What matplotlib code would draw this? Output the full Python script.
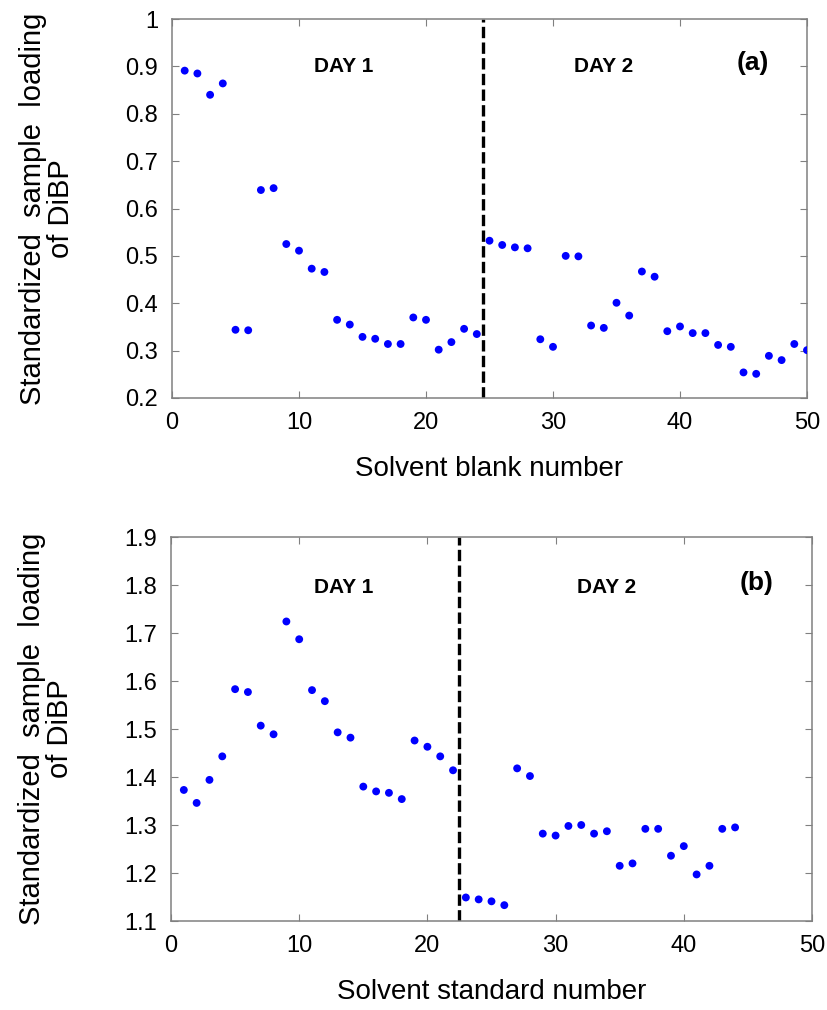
import numpy as np
import matplotlib.pyplot as plt

plt.rcParams['font.family'] = ['Liberation Sans', 'DejaVu Sans']

# (a) solvent blanks, DiBP loading per injection
blank_loading = [0.891, 0.885, 0.840, 0.864, 0.344, 0.343, 0.639, 0.643, 0.525, 0.511,
                 0.473, 0.466, 0.365, 0.355, 0.329, 0.325, 0.314, 0.314, 0.370, 0.365,
                 0.302, 0.318, 0.346, 0.335,
                 0.532, 0.523, 0.518, 0.516, 0.324, 0.308, 0.500, 0.499, 0.353, 0.348,
                 0.401, 0.374, 0.467, 0.456, 0.341, 0.351, 0.337, 0.337, 0.312, 0.308,
                 0.254, 0.251, 0.289, 0.280, 0.314, 0.301]
blank_day_split = 24.5

# (b) solvent standards
std_loading = [1.373, 1.346, 1.394, 1.443, 1.583, 1.577, 1.507, 1.489, 1.724, 1.687,
               1.581, 1.558, 1.493, 1.482, 1.380, 1.370, 1.367, 1.354, 1.476, 1.463,
               1.443, 1.414,
               1.149, 1.145, 1.141, 1.133, 1.418, 1.402, 1.282, 1.278, 1.298, 1.300,
               1.282, 1.287, 1.215, 1.220, 1.292, 1.292, 1.236, 1.256, 1.197, 1.215,
               1.292, 1.295]
std_day_split = 22.5

FRAME = '#808080'


def draw_panel(ax, values, split, ylim, yticks, xlabel, tag, text_y, tag_y):
    x = np.arange(1, len(values) + 1)
    ax.scatter(x, values, s=32, color='#0000ff', edgecolors='none', zorder=3)
    ax.axvline(split, color='black', lw=2.4, ls=(0, (3.4, 1.3)), zorder=2)

    ax.set_xlim(0, 50)
    ax.set_ylim(*ylim)
    ax.set_xticks([0, 10, 20, 30, 40, 50])
    ax.set_yticks(yticks)
    ax.set_yticklabels([f'{t:g}' for t in yticks])
    ax.tick_params(direction='in', length=5, width=0.8, color=FRAME,
                   top=True, right=True, labelsize=17, pad=10)
    for sp in ax.spines.values():
        sp.set_color(FRAME)
        sp.set_linewidth(1.1)

    ax.set_xlabel(xlabel, fontsize=20, labelpad=16)
    ax.set_ylabel('Standardized  sample  loading\nof DiBP', fontsize=21,
                  linespacing=1.0, multialignment='center')
    # right edge of the two-line label sits just left of the tick labels
    ax.yaxis.set_label_coords(-0.152, 0.5)

    ax.text(13.5, text_y, 'DAY 1', fontsize=15, fontweight='bold',
            ha='center', va='center')
    ax.text(34.0, text_y, 'DAY 2', fontsize=15, fontweight='bold',
            ha='center', va='center')
    ax.text(45.7, tag_y, tag, fontsize=19, fontweight='bold',
            ha='center', va='center')


fig = plt.figure(figsize=(8.28, 10.1), dpi=100)
ax_a = fig.add_axes([172 / 828, 1 - 398 / 1010, 635 / 828, 379 / 1010])
ax_b = fig.add_axes([171 / 828, 1 - 921 / 1010, 641 / 828, 384 / 1010])

draw_panel(ax_a, blank_loading, blank_day_split, (0.2, 1.0),
           [0.2, 0.3, 0.4, 0.5, 0.6, 0.7, 0.8, 0.9, 1.0],
           'Solvent blank number', '(a)', 0.9, 0.907)
draw_panel(ax_b, std_loading, std_day_split, (1.1, 1.9),
           [1.1, 1.2, 1.3, 1.4, 1.5, 1.6, 1.7, 1.8, 1.9],
           'Solvent standard number', '(b)', 1.794, 1.805)

fig.savefig('out.png', dpi=100)
